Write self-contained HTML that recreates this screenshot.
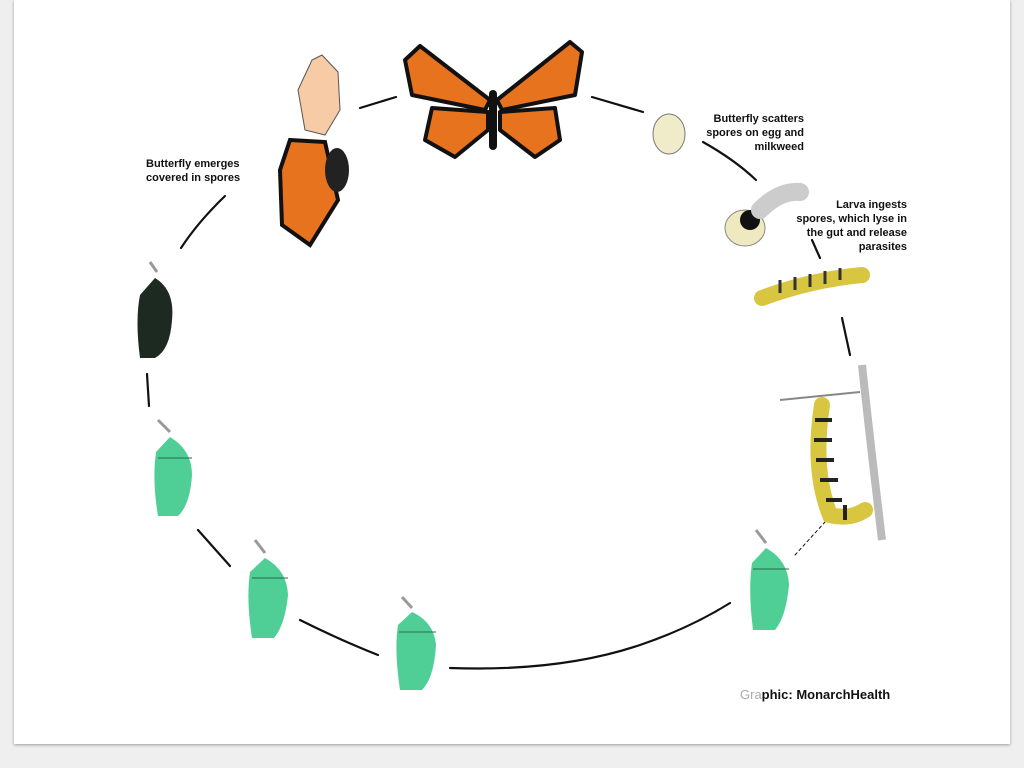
<!DOCTYPE html>
<html><head><meta charset="utf-8"><style>
html,body{margin:0;padding:0;background:#efefef;}
body{width:1024px;height:768px;position:relative;overflow:hidden;font-family:"Liberation Sans",sans-serif;}
#panel{position:absolute;left:14px;top:0;width:996px;height:744px;background:#fff;box-shadow:0 1px 3px rgba(0,0,0,.35);}
.t{position:absolute;font-size:11px;line-height:14px;color:#111;font-weight:bold;}
</style></head><body>
<div id="panel"></div>
<svg width="1024" height="768" style="position:absolute;left:0;top:0">
<g fill="none" stroke="#111" stroke-width="2.2" stroke-linecap="round">
<path d="M360 108 L396 97"/>
<path d="M592 97 L643 112"/>
<path d="M703 142 Q735 160 756 180"/>
<path d="M812 240 L820 258"/>
<path d="M842 318 L850 355"/>
<path d="M225 196 Q198 222 181 248"/>
<path d="M147 374 L149 406"/>
<path d="M198 530 L230 566"/>
<path d="M300 620 Q340 640 378 655"/>
<path d="M450 668 Q560 672 640 645 Q690 628 730 603"/>
<path d="M795 555 L825 522" stroke-dasharray="3 3" stroke-width="1"/>
</g>
<!-- butterfly -->
<g stroke="#111" stroke-width="4" stroke-linejoin="round">
<path d="M490 100 L420 46 L405 60 L412 95 L485 110Z" fill="#e8731f"/>
<path d="M497 100 L570 42 L582 52 L575 95 L502 110Z" fill="#e8731f"/>
<path d="M488 112 L432 108 L425 140 L455 157 L488 130Z" fill="#e8731f"/>
<path d="M500 112 L555 108 L560 140 L535 157 L500 130Z" fill="#e8731f"/>
</g>
<rect x="489" y="90" width="8" height="60" rx="4" fill="#111"/>
<!-- emerging butterfly -->
<path d="M312 60 L322 55 L338 72 L340 110 L325 135 L305 130 L298 90Z" fill="#f6cba5" stroke="#555"/>
<path d="M290 140 L325 142 L338 200 L310 245 L282 225 L280 170Z" fill="#e8731f" stroke="#111" stroke-width="4"/>
<ellipse cx="337" cy="170" rx="12" ry="22" fill="#222"/>
<!-- egg -->
<ellipse cx="669" cy="134" rx="16" ry="20" fill="#f0ebc8" stroke="#777"/>
<!-- larva with egg -->
<ellipse cx="745" cy="228" rx="20" ry="18" fill="#efe9c0" stroke="#888"/>
<circle cx="750" cy="220" r="10" fill="#111"/>
<path d="M760 210 Q780 190 800 192" stroke="#ccc" stroke-width="18" fill="none" stroke-linecap="round"/>
<!-- caterpillar -->
<path d="M762 298 Q810 280 862 275" stroke="#d8c640" stroke-width="16" fill="none" stroke-linecap="round"/>
<path d="M780 293 L780 280 M795 290 L795 277 M810 287 L810 274 M825 284 L825 271 M840 280 L840 268" stroke="#333" stroke-width="3"/>
<!-- hanging caterpillar -->
<path d="M780 400 L860 392" stroke="#888" stroke-width="2"/>
<path d="M862 365 Q870 440 882 540" stroke="#bbb" stroke-width="8" fill="none"/>
<path d="M822 405 Q812 470 830 515 Q850 520 865 510" stroke="#d8c640" stroke-width="16" fill="none" stroke-linecap="round"/>
<path d="M815 420 L832 420 M814 440 L832 440 M816 460 L834 460 M820 480 L838 480 M826 500 L842 500 M845 505 L845 520" stroke="#222" stroke-width="4"/>
<!-- black chrysalis -->
<path d="M150 262 L157 272" stroke="#999" stroke-width="3"/>
<path d="M155 278 Q175 290 172 320 Q170 350 155 358 L140 358 Q135 320 140 295Z" fill="#1c2a22"/>
<!-- green chrysalises -->
<g fill="#4fcf96">
<path d="M170 437 Q192 450 192 475 Q190 505 178 516 L158 516 Q152 480 156 452Z"/>
<path d="M265 558 Q287 570 288 595 Q285 625 274 638 L252 638 Q246 600 250 572Z"/>
<path d="M412 612 Q434 622 436 645 Q434 678 422 690 L400 690 Q394 650 398 625Z"/>
<path d="M766 548 Q788 560 789 585 Q786 617 775 630 L753 630 Q748 590 752 563Z"/>
</g>
<g stroke="#2a6a4c" stroke-width="1">
<path d="M158 458 L192 458"/><path d="M252 578 L288 578"/><path d="M399 632 L436 632"/><path d="M753 569 L789 569"/>
</g>
<g stroke="#999" stroke-width="3">
<path d="M158 420 L170 432"/><path d="M255 540 L265 553"/><path d="M402 597 L412 608"/><path d="M756 530 L766 543"/>
</g>
</svg>
<div class="t" style="left:146px;top:157px">Butterfly emerges<br>covered in spores</div>
<div class="t" style="left:694px;top:112px;text-align:right;width:110px">Butterfly scatters<br>spores on egg and<br>milkweed</div>
<div class="t" style="left:790px;top:198px;text-align:right;width:117px">Larva ingests<br>spores, which lyse in<br>the gut and release<br>parasites</div>
<div class="t" style="left:740px;top:688px;font-size:13px"><span style="color:#aaa;font-weight:normal">Gra</span>phic: MonarchHealth</div>
</body></html>
